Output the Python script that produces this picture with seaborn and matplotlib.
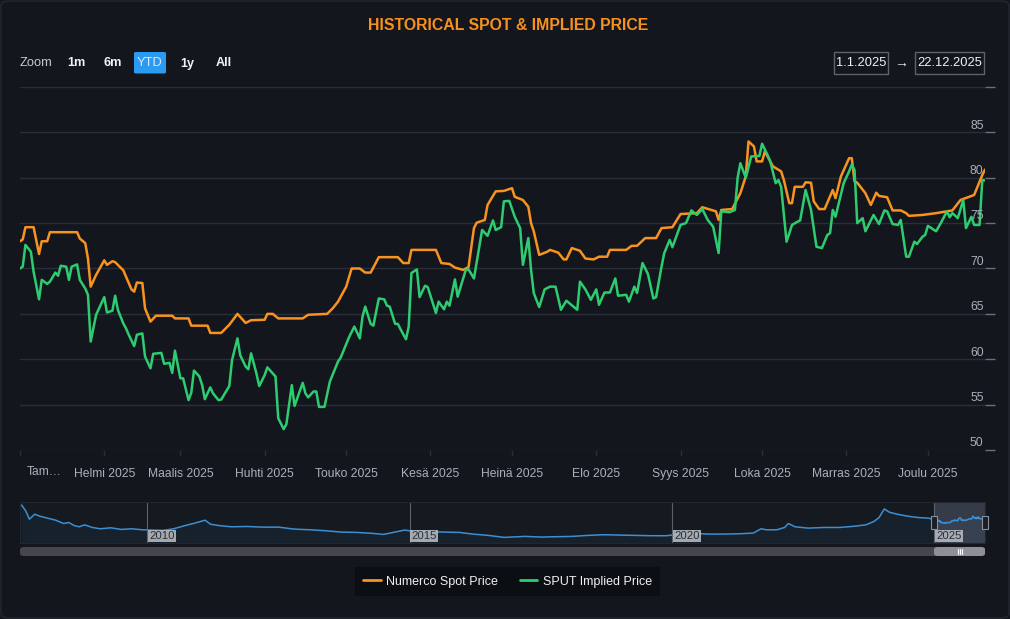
import numpy as np
import pandas as pd
import seaborn as sns
import matplotlib.pyplot as plt
from matplotlib.patches import FancyBboxPatch, Rectangle
from matplotlib.lines import Line2D

BG = '#13161d'
GRID = '#2a2e38'
TXT = '#a9b0bc'
ORANGE = '#f7931e'
GREEN = '#2ecc71'
NAVBLUE = '#3d8fd4'

# ---- data (days since 1.1.2025, price) ----
spot_days = [0, 1, 2, 5, 7, 8, 10, 11, 21, 22,
             24, 25, 26, 28, 31, 32, 34, 35, 38, 41,
             42, 43, 45, 46, 48, 50, 56, 57, 62, 63,
             69, 70, 74, 77, 80, 83, 85, 90, 91, 93,
             95, 104, 106, 113, 115, 117, 120, 122, 125, 127,
             129, 132, 139, 141, 143, 144, 153, 155, 158, 160,
             163, 165, 167, 168, 171, 172, 175, 178, 181, 182,
             185, 187, 188, 189, 191, 194, 195, 198, 200, 201,
             203, 206, 208, 211, 213, 216, 217, 223, 225, 227,
             230, 234, 236, 240, 243, 249, 251, 256, 257, 258,
             262, 265, 267, 268, 270, 271, 273, 274, 275, 277,
             280, 281, 283, 284, 285, 288, 289, 291, 292, 294,
             296, 299, 300, 302, 305, 306, 307, 308, 311, 313,
             315, 316, 319, 321, 324, 326, 327, 332, 337, 343,
             346, 350, 351, 354, 355]
spot_vals = [73.0, 73.2, 74.55, 74.55, 71.6, 73.0, 73.0, 74.0, 74.0, 73.3,
             72.8, 71.1, 68.0, 69.3, 70.9, 70.4, 70.8, 70.7, 69.8, 67.7,
             67.45, 68.45, 68.4, 65.6, 64.15, 64.8, 64.8, 64.5, 64.5, 63.7,
             63.7, 62.9, 62.9, 63.8, 65.0, 64.0, 64.3, 64.35, 65.0, 65.0,
             64.5, 64.5, 64.9, 65.0, 65.6, 66.35, 68.0, 70.0, 70.0, 69.55,
             69.55, 71.25, 71.25, 70.6, 70.6, 72.05, 72.05, 70.6, 70.5, 70.1,
             69.85, 70.15, 74.45, 75.05, 75.35, 77.0, 78.5, 78.55, 78.85, 77.9,
             77.55, 76.8, 75.0, 74.1, 71.5, 71.85, 72.05, 71.75, 71.0, 71.0,
             72.25, 71.95, 71.1, 71.0, 71.3, 71.3, 72.05, 72.05, 72.5, 72.5,
             73.35, 73.35, 74.45, 74.55, 76.0, 76.1, 76.75, 76.3, 75.35, 76.45,
             76.55, 78.3, 80.15, 84.0, 83.45, 81.8, 81.8, 82.9, 82.35, 81.25,
             80.7, 79.75, 77.2, 77.2, 79.0, 79.0, 79.5, 79.45, 77.4, 76.55,
             76.55, 78.65, 77.75, 80.15, 82.15, 82.15, 79.6, 79.45, 78.3, 77.0,
             78.35, 78.0, 77.85, 76.4, 76.4, 76.1, 75.8, 75.9, 76.1, 76.4,
             77.55, 78.0, 78.1, 80.3, 80.9]

implied_days = [0, 1, 2, 4, 5, 7, 8, 10, 11, 13,
                14, 15, 17, 18, 19, 21, 22, 24, 25, 26,
                28, 31, 32, 34, 35, 36, 38, 39, 40, 42,
                43, 45, 46, 48, 49, 52, 53, 55, 56, 57,
                59, 60, 62, 63, 64, 66, 67, 68, 70, 71,
                73, 74, 76, 77, 78, 80, 81, 83, 84, 85,
                87, 88, 90, 91, 94, 95, 97, 98, 100, 101,
                104, 105, 106, 108, 109, 110, 112, 114, 117, 118,
                121, 123, 125, 126, 127, 129, 130, 132, 134, 135,
                136, 138, 139, 140, 142, 143, 144, 146, 147, 149,
                150, 153, 154, 156, 157, 158, 160, 161, 164, 165,
                167, 170, 172, 174, 175, 177, 178, 180, 182, 184,
                185, 187, 188, 189, 191, 193, 195, 197, 199, 201,
                205, 206, 208, 210, 212, 213, 215, 217, 219, 220,
                223, 224, 226, 227, 229, 231, 233, 234, 236, 237,
                239, 240, 243, 245, 247, 249, 251, 253, 255, 257,
                258, 261, 263, 264, 265, 267, 269, 272, 273, 275,
                276, 278, 279, 280, 282, 284, 286, 287, 289, 291,
                293, 295, 297, 298, 299, 300, 303, 305, 306, 307,
                308, 310, 311, 314, 316, 318, 319, 321, 323, 324,
                326, 327, 329, 330, 332, 333, 334, 337, 339, 341,
                342, 343, 345, 347, 348, 350, 351, 353, 354, 355]
implied_vals = [70.0, 70.2, 72.6, 71.85, 69.65, 66.6, 68.75, 68.3, 68.55, 69.55,
                69.2, 70.3, 70.2, 68.75, 70.2, 70.45, 68.75, 67.8, 67.1, 61.95,
                64.9, 66.85, 65.15, 65.35, 67.0, 65.45, 63.95, 63.4, 62.7, 61.45,
                62.7, 62.85, 60.3, 59.0, 60.6, 60.7, 59.5, 59.6, 58.5, 60.95,
                57.9, 57.9, 55.5, 56.3, 58.75, 58.1, 57.15, 55.6, 56.9, 56.25,
                55.5, 55.55, 56.55, 57.05, 59.9, 62.3, 60.45, 59.2, 58.9, 60.65,
                58.4, 57.05, 58.25, 59.1, 58.1, 53.5, 52.3, 52.85, 57.15, 54.85,
                57.4, 56.25, 55.8, 56.45, 56.45, 54.75, 54.75, 57.55, 59.75, 60.2,
                62.4, 63.6, 62.3, 64.7, 65.8, 63.9, 63.7, 66.7, 66.6, 65.9,
                65.8, 63.9, 63.9, 63.3, 62.2, 63.6, 69.5, 69.9, 66.85, 68.1,
                67.95, 65.1, 66.35, 65.5, 66.35, 65.9, 68.8, 66.9, 69.85, 69.9,
                68.9, 74.25, 73.6, 75.3, 74.25, 74.55, 77.4, 77.45, 75.7, 74.45,
                70.4, 73.35, 69.85, 67.3, 65.75, 67.7, 68.0, 68.0, 65.45, 66.45,
                65.45, 68.55, 67.7, 66.55, 67.7, 66.0, 67.35, 67.35, 68.9, 67.0,
                67.1, 66.35, 68.0, 67.3, 70.6, 69.4, 66.7, 66.85, 70.2, 71.7,
                73.15, 72.35, 74.8, 75.0, 76.4, 75.9, 76.55, 75.35, 74.6, 71.7,
                76.3, 76.2, 76.45, 80.0, 81.6, 80.0, 82.35, 82.4, 83.75, 82.5,
                81.8, 79.4, 79.75, 79.0, 72.95, 74.8, 75.15, 75.3, 78.65, 76.45,
                72.4, 72.25, 73.7, 73.9, 76.45, 75.7, 79.4, 80.7, 81.45, 80.85,
                75.0, 75.55, 74.1, 75.9, 74.9, 76.4, 76.3, 74.9, 74.8, 75.35,
                71.3, 71.3, 72.95, 72.7, 73.5, 73.7, 74.7, 74.1, 75.15, 76.3,
                75.65, 76.1, 75.55, 77.55, 74.45, 75.7, 74.8, 74.8, 79.75, 79.7]

# navigator history (fractional year, spot price) before 2025
nav_years = [2007.6, 2007.68, 2007.75, 2007.85, 2007.95, 2008.1, 2008.25, 2008.4, 2008.5,
             2008.6, 2008.7, 2008.8, 2008.95, 2009.1, 2009.3, 2009.5, 2009.7, 2009.9,
             2010.1, 2010.3, 2010.5, 2010.7, 2010.9, 2011.1, 2011.2, 2011.35, 2011.6,
             2011.9, 2012.2, 2012.5, 2012.8, 2013.1, 2013.4, 2013.7, 2014.0, 2014.3,
             2014.5, 2014.75, 2014.9, 2015.1, 2015.4, 2015.7, 2015.95, 2016.2, 2016.5,
             2016.8, 2016.95, 2017.2, 2017.5, 2017.8, 2018.1, 2018.4, 2018.7, 2019.0,
             2019.3, 2019.6, 2019.9, 2020.2, 2020.4, 2020.7, 2021.0, 2021.3, 2021.55,
             2021.7, 2021.8, 2022.0, 2022.15, 2022.22, 2022.35, 2022.6, 2022.9, 2023.2,
             2023.5, 2023.7, 2023.85, 2023.95, 2024.05, 2024.15, 2024.3, 2024.5, 2024.7,
             2024.9]
nav_vals = [118, 100, 75, 90, 84, 78, 72, 62, 65, 56, 52, 58, 50, 46, 49, 44, 46, 43,
            42, 41, 46, 55, 63, 72, 60, 56, 52, 53, 51, 51, 45, 43, 40, 36, 35, 32,
            29, 37, 42, 38, 37, 36, 35, 30, 26, 20, 21, 23, 21, 22, 23, 26, 28, 27,
            26, 25, 25, 31, 32, 30, 30, 31, 33, 46, 43, 43, 50, 62, 52, 48, 50, 50,
            54, 58, 68, 80, 106, 96, 90, 84, 80, 78]

start = pd.Timestamp('2025-01-01')
end = pd.Timestamp('2025-12-22')
spot = pd.DataFrame({'date': start + pd.to_timedelta(spot_days, unit='D'), 'price': spot_vals})
implied = pd.DataFrame({'date': start + pd.to_timedelta(implied_days, unit='D'), 'price': implied_vals})
nav = pd.DataFrame({'year': nav_years + [2025 + d / 365 for d in spot_days],
                    'price': nav_vals + spot_vals})

month_ticks = pd.date_range('2025-01-01', '2025-12-01', freq='MS')
month_labels = ['', 'Helmi 2025', 'Maalis 2025', 'Huhti 2025', 'Touko 2025', 'Kesä 2025',
                'Heinä 2025', 'Elo 2025', 'Syys 2025', 'Loka 2025', 'Marras 2025', 'Joulu 2025']

sns.set_style('dark', {'axes.facecolor': BG, 'figure.facecolor': BG})
plt.rcParams['font.family'] = ['Liberation Sans', 'DejaVu Sans']

W, H = 1010, 619
fig = plt.figure(figsize=(W / 100, H / 100), dpi=100, facecolor=BG)


def box(x0, y0, x1, y1):
    return [x0 / W, 1 - y1 / H, (x1 - x0) / W, (y1 - y0) / H]


# card outline
fig.add_artist(FancyBboxPatch((1 / W, 1 / H), 1 - 2 / W, 1 - 2 / H,
                              boxstyle='round,pad=0,rounding_size=0.008',
                              transform=fig.transFigure, fc='none', ec='#242832', lw=1))

# ---- main chart ----
ax = fig.add_axes(box(20, 87, 985, 450))
ax.set_facecolor(BG)
sns.lineplot(data=spot, x='date', y='price', color=ORANGE, lw=1.8, ax=ax, label='Numerco Spot Price')
sns.lineplot(data=implied, x='date', y='price', color=GREEN, lw=1.8, ax=ax, label='SPUT Implied Price')
handles, labels = ax.get_legend_handles_labels()
ax.get_legend().remove()

ax.set_xlim(start, end)
ax.set_ylim(50, 90)
ax.set_yticks(range(50, 91, 5))
ax.grid(axis='y', color=GRID, lw=1)
ax.grid(axis='x', visible=False)
for s in ax.spines.values():
    s.set_visible(False)
ax.set_xlabel('')
ax.set_ylabel('')
ax.tick_params(axis='y', left=False, right=True, labelleft=False, labelright=False,
               length=7.5, width=1, color='#6b717c')
for v in range(50, 90, 5):
    ax.annotate(str(v), xy=(1, v), xycoords=('axes fraction', 'data'), xytext=(-1, 0.5),
                textcoords='offset points', ha='right', va='bottom', color=TXT, fontsize=8.7)
ax.set_xticks(month_ticks)
ax.set_xticklabels(month_labels)
ax.tick_params(axis='x', bottom=True, length=4, width=1, color=GRID, labelcolor=TXT,
               labelsize=8.7, pad=9)
ax.annotate('Tam…', xy=(0, 0), xycoords='axes fraction', xytext=(4.5, -16),
            textcoords='offset points', ha='left', va='center', color=TXT, fontsize=8.7)

# ---- navigator ----
nx = fig.add_axes(box(20, 502, 985, 543))
nx.set_facecolor('#151920')
sns.lineplot(data=nav, x='year', y='price', color=NAVBLUE, lw=1.1, ax=nx)
nx.fill_between(nav['year'], nav['price'], 0, color=NAVBLUE, alpha=0.07, lw=0)
nx.set_xlim(2007.57, 2025.97)
nx.set_ylim(3, 127)
nx.set_xticks([])
nx.set_yticks([])
nx.set_xlabel('')
nx.set_ylabel('')
for s in nx.spines.values():
    s.set_color('#22262e')
    s.set_linewidth(0.8)
for yr in [2010, 2015, 2020, 2025]:
    nx.axvline(yr, color='#5d626c', lw=0.8)
    nx.annotate(str(yr), xy=(yr, 0), xycoords=('data', 'axes fraction'), xytext=(1.5, 1.5),
                textcoords='offset points', ha='left', va='bottom', fontsize=8.2,
                color='#2b2d33',
                bbox=dict(boxstyle='square,pad=0.12', fc='#b4b8bf', ec='none', alpha=0.9))
nx.axvspan(2025.0, 2025.97, color='#7a8499', alpha=0.33, lw=0)

for hx in [930.5, 981.5]:
    fig.add_artist(Rectangle((hx / W, 1 - 529 / H), 6 / W, 13 / H, transform=fig.transFigure,
                             fc='#1b1e25', ec='#8a8f98', lw=0.8))

# scrollbar
fig.add_artist(FancyBboxPatch((20 / W, 1 - 556 / H), 965 / W, 9 / H,
                              boxstyle='round,pad=0,rounding_size=0.004',
                              transform=fig.transFigure, fc='#45474d', ec='none'))
fig.add_artist(FancyBboxPatch((934 / W, 1 - 556 / H), 51 / W, 9 / H,
                              boxstyle='round,pad=0,rounding_size=0.004',
                              transform=fig.transFigure, fc='#8e9095', ec='none'))
for gx in [957.5, 959.5, 961.5]:
    fig.add_artist(Line2D([gx / W, gx / W], [1 - 553.5 / H, 1 - 548.5 / H],
                          transform=fig.transFigure, color='#f4f4f4', lw=0.9))

# ---- header ----
fig.text(508.5 / W, 1 - 26 / H, 'HISTORICAL SPOT & IMPLIED PRICE', ha='center', va='center',
         color='#f7901e', fontsize=11.4, fontweight='bold')
fig.text(20 / W, 1 - 63.5 / H, 'Zoom', ha='left', va='center', color='#c4c8ce', fontsize=9.3)
for lab, cx in [('1m', 76.5), ('6m', 113), ('1y', 187), ('All', 224)]:
    fig.text(cx / W, 1 - 63.5 / H, lab, ha='center', va='center', color='#f0f2f5',
             fontsize=9.1, fontweight='bold')
fig.add_artist(FancyBboxPatch((134 / W, 1 - 73.5 / H), 32 / W, 21.5 / H,
                              boxstyle='round,pad=0,rounding_size=0.002',
                              transform=fig.transFigure, fc='#2a9bf0', ec='none'))
fig.text(150 / W, 1 - 63.5 / H, 'YTD', ha='center', va='center', color='#dbe8f5', fontsize=9.3)

for lab, x0, x1 in [('1.1.2025', 834, 888), ('22.12.2025', 915, 984)]:
    fig.add_artist(Rectangle((x0 / W, 1 - 73.5 / H), (x1 - x0) / W, 21.5 / H,
                             transform=fig.transFigure, fc='none', ec='#5e626b', lw=1))
    fig.text((x0 + x1) / 2 / W, 1 - 63.5 / H, lab, ha='center', va='center',
             color='#f2f2f2', fontsize=9.3)
fig.text(901 / W, 1 - 63 / H, '→', ha='center', va='center', color='#e8e8e8', fontsize=10)

# ---- legend ----
leg = fig.legend(handles, labels, loc='center', bbox_to_anchor=(507.5 / W, 1 - 581.5 / H),
                 ncol=2, frameon=True, facecolor='#0a0c10', edgecolor='#0a0c10',
                 fancybox=False, fontsize=9, labelcolor='#f0f0f0', handlelength=1.4,
                 handletextpad=0.45, columnspacing=1.7, borderpad=0.65)
leg.get_frame().set_linewidth(0)
for ln in leg.get_lines():
    ln.set_linewidth(2)

fig.savefig('out.png', dpi=100, facecolor=BG)
